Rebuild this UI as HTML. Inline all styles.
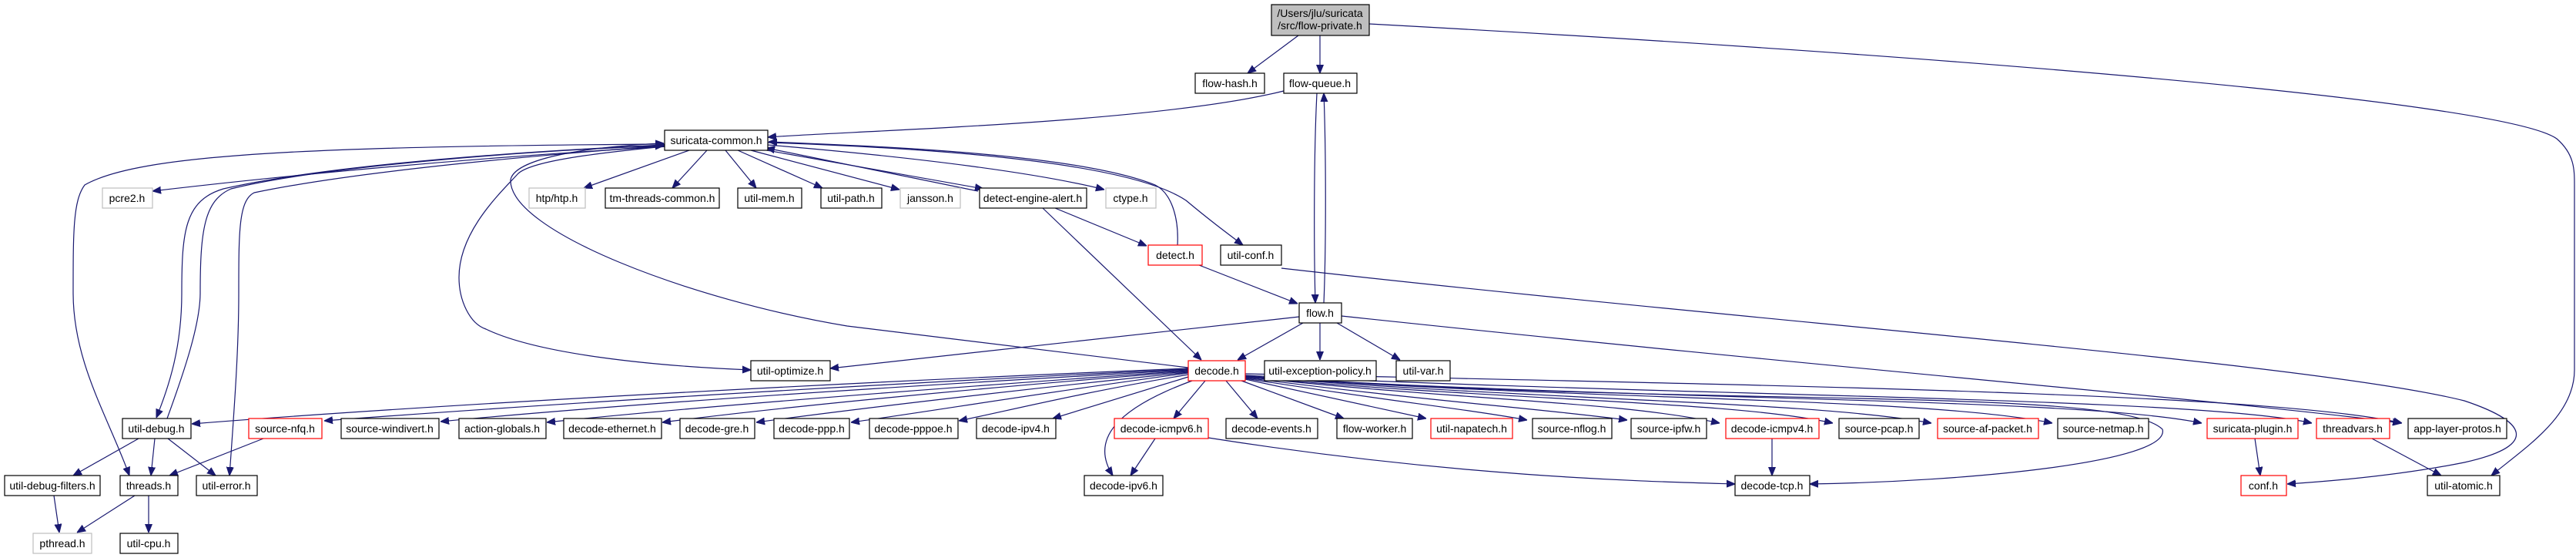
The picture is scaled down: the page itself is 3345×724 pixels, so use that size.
<!DOCTYPE html>
<html><head><meta charset="utf-8"><style>
html,body{margin:0;padding:0;background:#fff;}
svg{display:block;}
text{font-family:"Liberation Sans",Helvetica,Arial,sans-serif;font-size:14px;fill:#000;text-anchor:middle;}
.e{fill:none;stroke:#191970;stroke-width:1.2;}
.n{fill:#fff;stroke:#000;stroke-width:1.2;}
.g{fill:#fff;stroke:#bfbfbf;stroke-width:1.2;}
.r{fill:#fff;stroke:#ff0000;stroke-width:1.2;}
</style></head><body>
<svg width="3345" height="724" viewBox="0 0 3345 724" xmlns="http://www.w3.org/2000/svg">
<defs><marker id="a" viewBox="0 0 10 10" refX="10" refY="5" markerWidth="11" markerHeight="11" markerUnits="userSpaceOnUse" orient="auto"><path d="M0,1 L10,5 L0,9 z" fill="#191970" stroke="#191970"/></marker></defs>
<g marker-end="url(#a)">
<!-- root edges -->
<path class="e" d="M1686,46 L1620,95"/>
<path class="e" d="M1714,46 L1714,95"/>
<path class="e" d="M1778,31 C2500,70 3250,130 3320,180 C3343,200 3343,220 3343,240 L3343,480 C3343,540 3280,580 3235,617"/>
<!-- flow-queue -->
<path class="e" d="M1667,118 C1500,160 1100,170 997,178"/>
<path class="e" d="M1710,121 C1706,200 1706,320 1708,393"/>
<path class="e" d="M1719,393 C1722,320 1722,200 1719,121"/>
<!-- suricata-common children -->
<path class="e" d="M868,190 C600,205 350,230 198,248"/>
<path class="e" d="M895,195 L758,244"/>
<path class="e" d="M918,195 L873,244"/>
<path class="e" d="M942,195 L982,244"/>
<path class="e" d="M958,195 L1068,244"/>
<path class="e" d="M975,195 L1168,246"/>
<path class="e" d="M990,194 L1277,245"/>
<path class="e" d="M1270,248 L995,192"/>
<path class="e" d="M997,188 C1200,205 1350,225 1434,246"/>
<path class="e" d="M997,185 C1300,195 1480,220 1540,260 C1570,285 1590,300 1614,318"/>
<path class="e" d="M1529,318 C1531,280 1520,250 1500,240 C1400,200 1150,190 998,184"/>
<path class="e" d="M1370,270 L1489,319"/>
<path class="e" d="M1354,270 L1560,467"/>
<path class="e" d="M1557,344 L1685,394"/>
<path class="e" d="M1664,348 C2300,420 3000,470 3200,520 C3290,550 3290,580 3200,600 C3100,620 3000,626 2970,628"/>
<!-- flow.h -->
<path class="e" d="M1687,411 L1078,478"/>
<path class="e" d="M1692,419 L1607,467"/>
<path class="e" d="M1714,419 L1714,467"/>
<path class="e" d="M1736,419 L1818,467"/>
<path class="e" d="M1742,410 C2400,480 2900,520 3118,549"/>
<!-- left curves from suricata-common -->
<path class="e" d="M863,187 C400,190 180,200 110,240 C95,260 95,300 95,380 C95,470 140,540 168,617"/>
<path class="e" d="M863,188 C600,200 400,220 290,245 C240,260 236,300 236,380 C236,450 220,500 203,542"/>
<path class="e" d="M217,543 C240,480 260,420 260,380 C260,300 265,260 300,245 C420,215 700,195 862,189"/>
<path class="e" d="M863,189 C650,205 450,225 330,250 C310,260 310,300 310,380 C310,450 305,520 298,617"/>
<path class="e" d="M863,190 C760,200 690,210 673,225 C650,250 596,300 596,360 C596,390 610,420 631,427 C700,460 850,475 975,480"/>
<path class="e" d="M1543,477 L1100,423 C900,390 660,300 663,233 C670,200 800,188 862,186"/>
<!-- util-debug etc -->
<path class="e" d="M180,569 L95,617"/>
<path class="e" d="M201,569 L196,617"/>
<path class="e" d="M218,569 L280,617"/>
<path class="e" d="M342,569 L220,617"/>
<path class="e" d="M70,643 L77,691"/>
<path class="e" d="M175,643 L100,691"/>
<path class="e" d="M193,643 L193,691"/>
<!-- decode.h left -->
<path class="e" d="M1543,478 C1000,500 500,530 249,550"/>
<path class="e" d="M1543,479 C1100,500 700,525 421,546"/>
<path class="e" d="M1543,480 C1150,502 800,525 572,547"/>
<path class="e" d="M1543,481 C1200,505 900,528 710,548"/>
<path class="e" d="M1543,482 C1250,505 1000,530 860,548"/>
<path class="e" d="M1543,483 C1300,508 1100,532 982,548"/>
<path class="e" d="M1543,484 C1350,510 1200,535 1105,548"/>
<path class="e" d="M1543,486 C1400,510 1300,535 1245,546"/>
<path class="e" d="M1543,489 L1367,543"/>
<path class="e" d="M1548,494 C1450,530 1415,570 1445,617"/>
<path class="e" d="M1565,494 L1524,543"/>
<path class="e" d="M1592,494 L1633,543"/>
<path class="e" d="M1612,494 L1745,543"/>
<path class="e" d="M1617,492 L1852,543"/>
<path class="e" d="M1617,491 C1800,520 1900,530 1983,545"/>
<path class="e" d="M1617,490 C1850,520 2000,530 2113,545"/>
<path class="e" d="M1617,489 C1900,520 2100,520 2233,549"/>
<path class="e" d="M1617,489 C1950,520 2250,520 2380,549"/>
<path class="e" d="M1617,488 C2000,520 2350,520 2508,549"/>
<path class="e" d="M1617,488 C2050,520 2500,515 2665,549"/>
<path class="e" d="M1617,488 C2100,520 2700,515 2859,549"/>
<path class="e" d="M1617,487 C2200,515 2850,515 3002,549"/>
<path class="e" d="M1617,485 C2300,500 2950,510 3119,549"/>
<path class="e" d="M1617,488 C2200,530 2750,500 2808,557 C2820,600 2550,625 2350,628"/>
<path class="e" d="M1500,569 L1468,617"/>
<path class="e" d="M1569,568 C1900,620 2150,625 2253,628"/>
<path class="e" d="M2301,569 L2301,617"/>
<path class="e" d="M2928,569 L2935,617"/>
<path class="e" d="M3080,569 L3170,617"/>
</g>
<!-- nodes -->
<rect x="1651" y="6" width="127" height="40" fill="#bfbfbf" stroke="#000" stroke-width="1.2"/>
<text x="1714" y="22">/Users/jlu/suricata</text><text x="1714" y="38">/src/flow-private.h</text>
<rect class="n" x="1552" y="95" width="90" height="26"/><text x="1597" y="113">flow-hash.h</text>
<rect class="n" x="1667" y="95" width="95" height="26"/><text x="1714" y="113">flow-queue.h</text>
<rect class="n" x="863" y="169" width="134" height="26"/><text x="930" y="187">suricata-common.h</text>
<rect class="g" x="133" y="244" width="65" height="26"/><text x="165" y="262">pcre2.h</text>
<rect class="g" x="687" y="244" width="73" height="26"/><text x="723" y="262">htp/htp.h</text>
<rect class="n" x="786" y="244" width="148" height="26"/><text x="860" y="262">tm-threads-common.h</text>
<rect class="n" x="958" y="244" width="83" height="26"/><text x="999" y="262">util-mem.h</text>
<rect class="n" x="1066" y="244" width="79" height="26"/><text x="1105" y="262">util-path.h</text>
<rect class="g" x="1169" y="244" width="78" height="26"/><text x="1208" y="262">jansson.h</text>
<rect class="n" x="1272" y="244" width="139" height="26"/><text x="1341" y="262">detect-engine-alert.h</text>
<rect class="g" x="1436" y="244" width="65" height="26"/><text x="1468" y="262">ctype.h</text>
<rect class="r" x="1491" y="318" width="70" height="26"/><text x="1526" y="336">detect.h</text>
<rect class="n" x="1585" y="318" width="79" height="26"/><text x="1624" y="336">util-conf.h</text>
<rect class="n" x="1687" y="393" width="55" height="26"/><text x="1714" y="411">flow.h</text>
<rect class="n" x="975" y="468" width="103" height="26"/><text x="1026" y="486">util-optimize.h</text>
<rect class="r" x="1543" y="468" width="74" height="26"/><text x="1580" y="486">decode.h</text>
<rect class="n" x="1642" y="468" width="145" height="26"/><text x="1714" y="486">util-exception-policy.h</text>
<rect class="n" x="1813" y="468" width="70" height="26"/><text x="1848" y="486">util-var.h</text>
<rect class="n" x="159" y="543" width="89" height="26"/><text x="203" y="561">util-debug.h</text>
<rect class="r" x="323" y="543" width="95" height="26"/><text x="370" y="561">source-nfq.h</text>
<rect class="n" x="443" y="543" width="127" height="26"/><text x="506" y="561">source-windivert.h</text>
<rect class="n" x="596" y="543" width="113" height="26"/><text x="652" y="561">action-globals.h</text>
<rect class="n" x="732" y="543" width="127" height="26"/><text x="795" y="561">decode-ethernet.h</text>
<rect class="n" x="883" y="543" width="97" height="26"/><text x="931" y="561">decode-gre.h</text>
<rect class="n" x="1005" y="543" width="98" height="26"/><text x="1054" y="561">decode-ppp.h</text>
<rect class="n" x="1129" y="543" width="115" height="26"/><text x="1186" y="561">decode-pppoe.h</text>
<rect class="n" x="1268" y="543" width="103" height="26"/><text x="1319" y="561">decode-ipv4.h</text>
<rect class="r" x="1447" y="543" width="122" height="26"/><text x="1508" y="561">decode-icmpv6.h</text>
<rect class="n" x="1592" y="543" width="119" height="26"/><text x="1651" y="561">decode-events.h</text>
<rect class="n" x="1736" y="543" width="98" height="26"/><text x="1785" y="561">flow-worker.h</text>
<rect class="r" x="1858" y="543" width="106" height="26"/><text x="1911" y="561">util-napatech.h</text>
<rect class="n" x="1990" y="543" width="103" height="26"/><text x="2041" y="561">source-nflog.h</text>
<rect class="n" x="2118" y="543" width="98" height="26"/><text x="2167" y="561">source-ipfw.h</text>
<rect class="r" x="2241" y="543" width="121" height="26"/><text x="2301" y="561">decode-icmpv4.h</text>
<rect class="n" x="2388" y="543" width="104" height="26"/><text x="2440" y="561">source-pcap.h</text>
<rect class="r" x="2516" y="543" width="131" height="26"/><text x="2581" y="561">source-af-packet.h</text>
<rect class="n" x="2672" y="543" width="118" height="26"/><text x="2731" y="561">source-netmap.h</text>
<rect class="r" x="2866" y="543" width="118" height="26"/><text x="2925" y="561">suricata-plugin.h</text>
<rect class="r" x="3008" y="543" width="95" height="26"/><text x="3055" y="561">threadvars.h</text>
<rect class="n" x="3127" y="543" width="128" height="26"/><text x="3191" y="561">app-layer-protos.h</text>
<rect class="n" x="6" y="617" width="124" height="26"/><text x="68" y="635">util-debug-filters.h</text>
<rect class="n" x="156" y="617" width="75" height="26"/><text x="193" y="635">threads.h</text>
<rect class="n" x="255" y="617" width="79" height="26"/><text x="294" y="635">util-error.h</text>
<rect class="n" x="1408" y="617" width="102" height="26"/><text x="1459" y="635">decode-ipv6.h</text>
<rect class="n" x="2253" y="617" width="97" height="26"/><text x="2301" y="635">decode-tcp.h</text>
<rect class="r" x="2910" y="617" width="59" height="26"/><text x="2939" y="635">conf.h</text>
<rect class="n" x="3152" y="617" width="94" height="26"/><text x="3199" y="635">util-atomic.h</text>
<rect class="g" x="43" y="692" width="76" height="26"/><text x="81" y="710">pthread.h</text>
<rect class="n" x="156" y="692" width="75" height="26"/><text x="193" y="710">util-cpu.h</text>
</svg>
</body></html>
